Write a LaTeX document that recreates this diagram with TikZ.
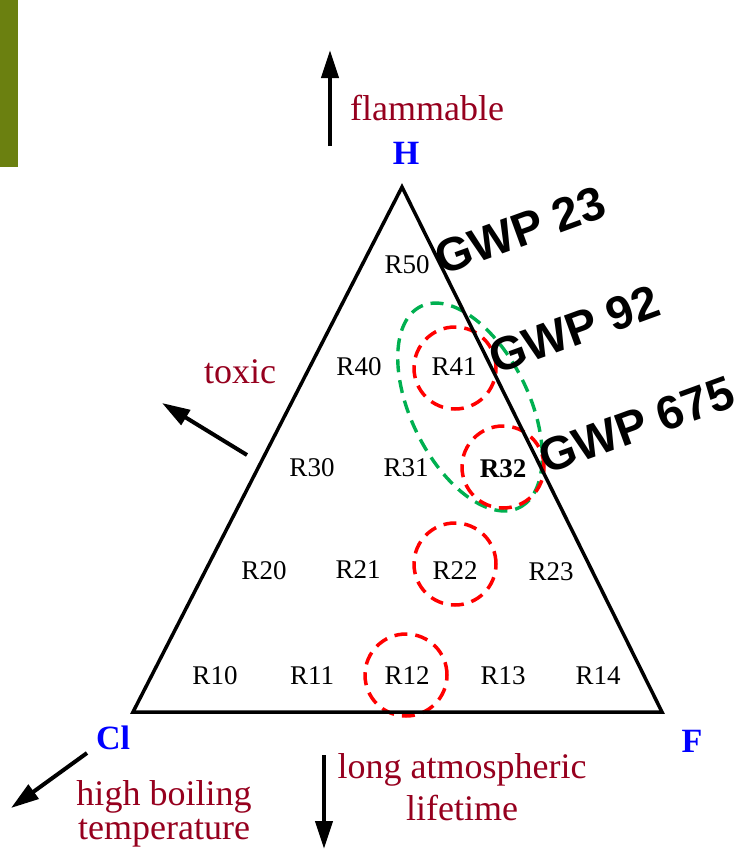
\documentclass[tikz,border=0pt]{standalone}
\usepackage{fontspec}
\setmainfont{Liberation Serif}
\newfontfamily\gwpfont{Liberation Sans}
\usetikzlibrary{arrows.meta,shapes.geometric}
\definecolor{olivebar}{RGB}{107,128,16}
\definecolor{propred}{RGB}{150,0,30}
\definecolor{vblue}{RGB}{0,0,255}
\definecolor{gwpgreen}{RGB}{0,176,80}
\begin{document}
\begin{tikzpicture}[x=1pt,y=-1pt,
  tri/.style={line width=3.5pt},
  dirarrow/.style={line width=4pt,-{Triangle[length=28pt,width=17pt]}},
  prop/.style={text=propred,font=\fontsize{36}{40}\selectfont,inner sep=0pt},
  rlab/.style={font=\fontsize{27}{30}\selectfont,anchor=base,inner sep=0pt},
  gwp/.style={font=\gwpfont\bfseries\fontsize{47}{50}\selectfont,rotate=20,anchor=base west,inner sep=0pt},
  vlab/.style={text=vblue,font=\bfseries\fontsize{34}{38}\selectfont,inner sep=0pt},
  redring/.style={circle,draw=red,line width=3.5pt,dash pattern=on 13pt off 8pt,minimum size=82pt,inner sep=0pt},
  greenring/.style={ellipse,draw=gwpgreen,line width=3.4pt,dash pattern=on 13pt off 8pt,inner sep=0pt}
]
\useasboundingbox (0,0) rectangle (740,854);
\fill[olivebar] (0,0) rectangle (18,167);

% rings
\node[greenring,minimum width=224pt,minimum height=118pt,rotate=-64] (grp) at (470,407) {};
\node[redring] (ring41) at (455,368) {};
\node[redring] (ring32) at (503,467) {};
\node[redring] (ring22) at (455,564) {};
\node[redring] (ring12) at (406,675) {};

% triangle
\coordinate (top) at (402,187);
\coordinate (left) at (133,712);
\coordinate (right) at (662,712);
\draw[tri] (top) -- (left) -- (right) -- cycle;

% vertex labels
\node[vlab] (H) at (406,153) {H};
\node[vlab] (Cl) at (113,738) {Cl};
\node[vlab] (F) at (692,741) {F};

% refrigerant labels
\node[rlab] (R50) at (407,273) {R50};
\node[rlab] (R40) at (359,375) {R40};
\node[rlab] (R41) at (454,375) {R41};
\node[rlab] (R30) at (312,476) {R30};
\node[rlab] (R31) at (406,476) {R31};
\node[rlab,font=\bfseries\fontsize{27}{30}\selectfont] (R32) at (503,477) {R32};
\node[rlab] (R20) at (264,579) {R20};
\node[rlab] (R21) at (358,578) {R21};
\node[rlab] (R22) at (455,579) {R22};
\node[rlab] (R23) at (551,580) {R23};
\node[rlab] (R10) at (215,684) {R10};
\node[rlab] (R11) at (312,684) {R11};
\node[rlab] (R12) at (407,684) {R12};
\node[rlab] (R13) at (503,684) {R13};
\node[rlab] (R14) at (598,684) {R14};

% GWP labels
\node[gwp] (g23) at (442,276) {GWP 23};
\node[gwp] (g92) at (496,375) {GWP 92};
\node[gwp] (g675) at (546,475) {GWP 675};

% direction arrows
\coordinate (flamA) at (330,146);
\coordinate (flamB) at (330,50);
\draw[dirarrow] (flamA) -- (flamB);
\coordinate (toxA) at (247,455);
\coordinate (toxB) at (162,403);
\draw[dirarrow] (toxA) -- (toxB);
\coordinate (boilA) at (87,753);
\coordinate (boilB) at (11,808);
\draw[dirarrow] (boilA) -- (boilB);
\coordinate (lifeA) at (324,755);
\coordinate (lifeB) at (324,849);
\draw[dirarrow] (lifeA) -- (lifeB);

% property labels
\node[prop,anchor=base] (flam) at (427,120) {flammable};
\node[prop,anchor=base] (tox) at (240,383) {toxic};
\node[prop,anchor=base,align=center,font=\fontsize{36}{34}\selectfont] (boil) at (164,839) {high boiling\\temperature};
\node[prop,anchor=base,align=center,font=\fontsize{36}{42}\selectfont] (life) at (462,820) {long atmospheric\\lifetime};
\end{tikzpicture}
\end{document}
